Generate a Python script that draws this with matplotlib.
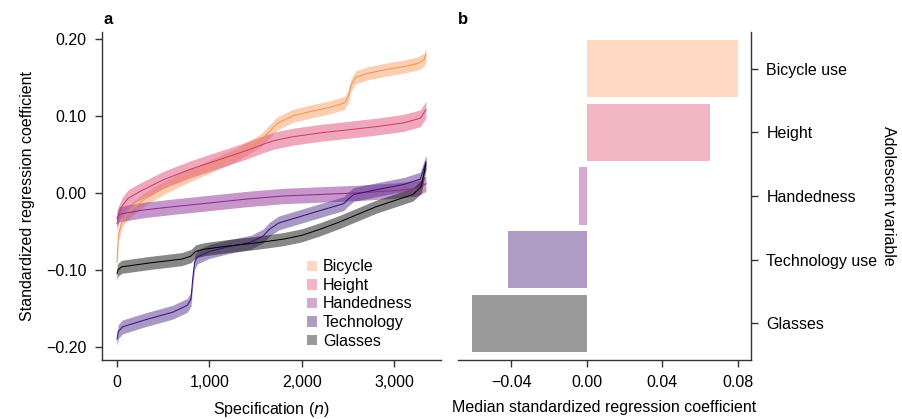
import numpy as np
import matplotlib
matplotlib.use('Agg')
import matplotlib.pyplot as plt
from matplotlib.patches import Patch

plt.rcParams['font.family'] = ['Liberation Sans', 'DejaVu Sans']
plt.rcParams['font.size'] = 11

# sorted specification curves: (n, coefficient)
bicycle_n = [0, 15, 60, 150, 300, 500, 700, 1000, 1300, 1550, 1650, 1730, 1900, 2100,
             2300, 2460, 2500, 2530, 2580, 2700, 2900, 3100, 3250, 3320, 3340]
bicycle_b = [-0.09, -0.055, -0.035, -0.022, -0.008, 0.006, 0.018, 0.034, 0.050, 0.068, 0.080,
             0.090, 0.100, 0.106, 0.111, 0.117, 0.125, 0.140, 0.150, 0.155, 0.160, 0.164,
             0.168, 0.173, 0.180]

height_n = [0, 20, 60, 120, 250, 500, 800, 1100, 1400, 1600, 1700, 1900, 2200, 2500,
            2800, 3100, 3280, 3340]
height_b = [-0.04, -0.027, -0.016, -0.007, 0.002, 0.017, 0.031, 0.043, 0.055, 0.064, 0.068,
            0.073, 0.078, 0.082, 0.086, 0.091, 0.097, 0.108]

hand_n = [0, 20, 100, 300, 600, 1000, 1400, 1800, 2200, 2600, 3000, 3250, 3340]
hand_b = [-0.033, -0.028, -0.026, -0.022, -0.018, -0.013, -0.008, -0.004, -0.002, 0.000,
          0.003, 0.006, 0.012]

tech_n = [0, 15, 60, 300, 600, 760, 800, 820, 840, 870, 1000, 1200, 1450, 1580, 1650,
          1750, 2000, 2250, 2450, 2500, 2560, 2800, 3100, 3280, 3340]
tech_b = [-0.19, -0.180, -0.174, -0.165, -0.155, -0.146, -0.138, -0.110, -0.090, -0.083,
          -0.076, -0.070, -0.064, -0.056, -0.047, -0.039, -0.030, -0.021, -0.014, -0.008,
          -0.002, 0.004, 0.011, 0.018, 0.040]

glasses_n = [0, 10, 50, 350, 700, 800, 850, 950, 1200, 1500, 1800, 2000, 2200, 2400,
             2600, 2800, 3000, 3200, 3290, 3340]
glasses_b = [-0.105, -0.100, -0.096, -0.091, -0.086, -0.082, -0.076, -0.073, -0.069, -0.065,
             -0.060, -0.055, -0.047, -0.038, -0.028, -0.018, -0.010, -0.002, 0.008, 0.038]

# half-width of the shaded interval around each curve
band_half = [0.0085, 0.011, 0.010, 0.009, 0.0085]

names = ['Bicycle', 'Height', 'Handedness', 'Technology', 'Glasses']
bar_labels = ['Bicycle use', 'Height', 'Handedness', 'Technology use', 'Glasses']
medians = [0.080, 0.065, -0.004, -0.042, -0.061]

band_cols = ['#f99f62', '#e0507a', '#8e2c94', '#55308f', '#101010']
line_cols = ['#f0955a', '#cf3e6c', '#8f2d8c', '#3c1472', '#000000']
solid_cols = ['#fdd8c2', '#f2b5c3', '#d3a9cf', '#af9cc4', '#9a9a9a']

curves = [(bicycle_n, bicycle_b), (height_n, height_b), (hand_n, hand_b),
          (tech_n, tech_b), (glasses_n, glasses_b)]

fig = plt.figure(figsize=(9.02, 4.19), dpi=100)
ax1 = fig.add_axes([102/902, 1-360/419, (441-102)/902, (360-32)/419])
ax2 = fig.add_axes([458/902, 1-360/419, (751-458)/902, (360-32)/419])

spine_col = '#333333'

for i, (n, b) in enumerate(curves):
    n = np.array(n)
    b = np.array(b)
    ax1.fill_between(n, b - band_half[i], b + band_half[i], color=band_cols[i],
                     alpha=0.5, lw=0)
    ax1.plot(n, b, color=line_cols[i], lw=0.75)

ax1.set_xlim(-162, 3503)
ax1.set_ylim(-0.217, 0.209)
ax1.set_xticks([0, 1000, 2000, 3000])
ax1.set_xticklabels(['0', '1,000', '2,000', '3,000'])
ax1.set_yticks([-0.2, -0.1, 0.0, 0.1, 0.2])
ax1.set_yticklabels(['\u22120.20', '\u22120.10', '0.00', '0.10', '0.20'])
ax1.set_xlabel('Specification ($n$)', labelpad=7, fontsize=11.5)
ax1.set_ylabel('Standardized regression coefficient', labelpad=8, fontsize=11.5)
for s in ['top', 'right']:
    ax1.spines[s].set_visible(False)

handles = [Patch(facecolor=c, edgecolor='none') for c in solid_cols]
ax1.legend(handles, names, loc='lower left', bbox_to_anchor=(0.605, 0.035),
           frameon=False, handlelength=0.65, handleheight=0.65, handletextpad=0.35,
           labelspacing=0.22, borderpad=0, borderaxespad=0, fontsize=11.5)

ypos = np.arange(len(medians))[::-1]
ax2.barh(ypos, medians, height=0.9, color=solid_cols)
ax2.set_ylim(-0.58, 4.58)
ax2.set_xlim(-0.0683, 0.0869)
ax2.set_xticks([-0.04, 0.0, 0.04, 0.08])
ax2.set_xticklabels(['\u22120.04', '0.00', '0.04', '0.08'])
ax2.set_yticks(ypos)
ax2.set_yticklabels(bar_labels)
ax2.yaxis.tick_right()
ax2.yaxis.set_label_position('right')
ax2.set_ylabel('Adolescent variable', rotation=270, va='center', fontsize=11.5)
ax2.yaxis.set_label_coords(1.47, 0.5)
ax2.set_xlabel('Median standardized regression coefficient', labelpad=7, fontsize=11.5)
for s in ['top', 'left']:
    ax2.spines[s].set_visible(False)

for ax in (ax1, ax2):
    for s in ax.spines.values():
        s.set_color(spine_col)
        s.set_linewidth(1.0)
    ax.tick_params(length=5, width=1.0, color=spine_col, pad=6, labelsize=11.5)

fig.text(108/902, 1-20/419, 'a', fontsize=12, fontweight='bold', ha='center', va='center')
fig.text(463/902, 1-19/419, 'b', fontsize=12, fontweight='bold', ha='center', va='center')

fig.savefig('out.png', dpi=100)
